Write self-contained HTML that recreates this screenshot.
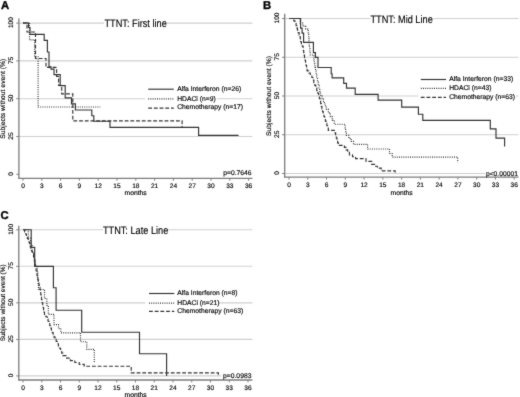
<!DOCTYPE html>
<html><head><meta charset="utf-8"><title>TTNT Kaplan-Meier</title>
<style>
html,body{margin:0;padding:0;background:#fff;}
body{width:520px;height:397px;overflow:hidden;}
svg{display:block;font-family:"Liberation Sans", sans-serif;text-rendering:geometricPrecision;filter:grayscale(100%);}
</style></head><body>
<svg width="520" height="397" viewBox="0 0 520 397">
<defs><filter id="sb" color-interpolation-filters="sRGB" x="0" y="0" width="100%" height="100%" filterUnits="userSpaceOnUse"><feConvolveMatrix order="3" kernelMatrix="0.02 0.07 0.02 0.07 0.64 0.07 0.02 0.07 0.02" divisor="1" edgeMode="duplicate" preserveAlpha="true"/></filter></defs>
<g filter="url(#sb)">
<rect width="520" height="397" fill="#fff"/>
<line x1="18.9" y1="23.1" x2="252.4" y2="23.1" stroke="#cfcfcf" stroke-width="1.1"/>
<line x1="18.9" y1="60.9" x2="252.4" y2="60.9" stroke="#cfcfcf" stroke-width="1.1"/>
<line x1="18.9" y1="98.7" x2="252.4" y2="98.7" stroke="#cfcfcf" stroke-width="1.1"/>
<line x1="18.9" y1="136.5" x2="252.4" y2="136.5" stroke="#cfcfcf" stroke-width="1.1"/>
<rect x="104" y="19" width="63" height="8" fill="#fff"/>
<rect x="145.2" y="95" width="72" height="7" fill="#fff"/>
<line x1="18.9" y1="18.4" x2="18.9" y2="178.8" stroke="#7c7c7c" stroke-width="1.3"/>
<line x1="18.4" y1="178.3" x2="252.4" y2="178.3" stroke="#7c7c7c" stroke-width="1.3"/>
<line x1="16.3" y1="174.3" x2="18.9" y2="174.3" stroke="#7c7c7c" stroke-width="1.0"/>
<text x="13" y="173.8" font-size="6.6" text-anchor="middle" font-weight="normal" fill="#000" stroke="#000" stroke-width="0.15" transform="rotate(-90 13 173.8)">0</text>
<line x1="16.3" y1="136.5" x2="18.9" y2="136.5" stroke="#7c7c7c" stroke-width="1.0"/>
<text x="13" y="136" font-size="6.6" text-anchor="middle" font-weight="normal" fill="#000" stroke="#000" stroke-width="0.15" transform="rotate(-90 13 136)">25</text>
<line x1="16.3" y1="98.7" x2="18.9" y2="98.7" stroke="#7c7c7c" stroke-width="1.0"/>
<text x="13" y="98.2" font-size="6.6" text-anchor="middle" font-weight="normal" fill="#000" stroke="#000" stroke-width="0.15" transform="rotate(-90 13 98.2)">50</text>
<line x1="16.3" y1="60.9" x2="18.9" y2="60.9" stroke="#7c7c7c" stroke-width="1.0"/>
<text x="13" y="60.4" font-size="6.6" text-anchor="middle" font-weight="normal" fill="#000" stroke="#000" stroke-width="0.15" transform="rotate(-90 13 60.4)">75</text>
<line x1="16.3" y1="23.1" x2="18.9" y2="23.1" stroke="#7c7c7c" stroke-width="1.0"/>
<text x="13" y="22.6" font-size="6.6" text-anchor="middle" font-weight="normal" fill="#000" stroke="#000" stroke-width="0.15" transform="rotate(-90 13 22.6)">100</text>
<line x1="23" y1="178.3" x2="23" y2="180.7" stroke="#7c7c7c" stroke-width="1.0"/>
<text x="23" y="188" font-size="6.6" text-anchor="middle" font-weight="normal" fill="#000" stroke="#000" stroke-width="0.15">0</text>
<line x1="41.8" y1="178.3" x2="41.8" y2="180.7" stroke="#7c7c7c" stroke-width="1.0"/>
<text x="41.8" y="188" font-size="6.6" text-anchor="middle" font-weight="normal" fill="#000" stroke="#000" stroke-width="0.15">3</text>
<line x1="60.6" y1="178.3" x2="60.6" y2="180.7" stroke="#7c7c7c" stroke-width="1.0"/>
<text x="60.6" y="188" font-size="6.6" text-anchor="middle" font-weight="normal" fill="#000" stroke="#000" stroke-width="0.15">6</text>
<line x1="79.4" y1="178.3" x2="79.4" y2="180.7" stroke="#7c7c7c" stroke-width="1.0"/>
<text x="79.4" y="188" font-size="6.6" text-anchor="middle" font-weight="normal" fill="#000" stroke="#000" stroke-width="0.15">9</text>
<line x1="98.2" y1="178.3" x2="98.2" y2="180.7" stroke="#7c7c7c" stroke-width="1.0"/>
<text x="98.2" y="188" font-size="6.6" text-anchor="middle" font-weight="normal" fill="#000" stroke="#000" stroke-width="0.15">12</text>
<line x1="117.01" y1="178.3" x2="117.01" y2="180.7" stroke="#7c7c7c" stroke-width="1.0"/>
<text x="117.01" y="188" font-size="6.6" text-anchor="middle" font-weight="normal" fill="#000" stroke="#000" stroke-width="0.15">15</text>
<line x1="135.81" y1="178.3" x2="135.81" y2="180.7" stroke="#7c7c7c" stroke-width="1.0"/>
<text x="135.81" y="188" font-size="6.6" text-anchor="middle" font-weight="normal" fill="#000" stroke="#000" stroke-width="0.15">18</text>
<line x1="154.61" y1="178.3" x2="154.61" y2="180.7" stroke="#7c7c7c" stroke-width="1.0"/>
<text x="154.61" y="188" font-size="6.6" text-anchor="middle" font-weight="normal" fill="#000" stroke="#000" stroke-width="0.15">21</text>
<line x1="173.41" y1="178.3" x2="173.41" y2="180.7" stroke="#7c7c7c" stroke-width="1.0"/>
<text x="173.41" y="188" font-size="6.6" text-anchor="middle" font-weight="normal" fill="#000" stroke="#000" stroke-width="0.15">24</text>
<line x1="192.21" y1="178.3" x2="192.21" y2="180.7" stroke="#7c7c7c" stroke-width="1.0"/>
<text x="192.21" y="188" font-size="6.6" text-anchor="middle" font-weight="normal" fill="#000" stroke="#000" stroke-width="0.15">27</text>
<line x1="211.01" y1="178.3" x2="211.01" y2="180.7" stroke="#7c7c7c" stroke-width="1.0"/>
<text x="211.01" y="188" font-size="6.6" text-anchor="middle" font-weight="normal" fill="#000" stroke="#000" stroke-width="0.15">30</text>
<line x1="229.81" y1="178.3" x2="229.81" y2="180.7" stroke="#7c7c7c" stroke-width="1.0"/>
<text x="229.81" y="188" font-size="6.6" text-anchor="middle" font-weight="normal" fill="#000" stroke="#000" stroke-width="0.15">33</text>
<line x1="248.61" y1="178.3" x2="248.61" y2="180.7" stroke="#7c7c7c" stroke-width="1.0"/>
<text x="248.61" y="188" font-size="6.6" text-anchor="middle" font-weight="normal" fill="#000" stroke="#000" stroke-width="0.15">36</text>
<text x="135.65" y="194.8" font-size="6.75" text-anchor="middle" font-weight="normal" fill="#000" stroke="#000" stroke-width="0.15">months</text>
<text x="5" y="98.7" font-size="6.75" text-anchor="middle" font-weight="normal" fill="#000" stroke="#000" stroke-width="0.15" transform="rotate(-90 5 98.7)">Subjects without event (%)</text>
<text x="0" y="0" font-size="9.2" text-anchor="middle" font-weight="normal" fill="#000" stroke="#000" stroke-width="0.12" transform="translate(135.65 27.2) scale(1 1.18)">TTNT: First line</text>
<line x1="148.2" y1="89.2" x2="173.8" y2="89.2" stroke="#333" stroke-width="1.15"/>
<text x="177.2" y="90.8" font-size="6.75" text-anchor="start" font-weight="normal" fill="#000" stroke="#000" stroke-width="0.15">Alfa Interferon (n=26)</text>
<line x1="148.2" y1="98.9" x2="173.8" y2="98.9" stroke="#333" stroke-width="1.15" stroke-dasharray="1 1.2"/>
<text x="177.2" y="100.6" font-size="6.75" text-anchor="start" font-weight="normal" fill="#000" stroke="#000" stroke-width="0.15">HDACi (n=9)</text>
<line x1="148.2" y1="108.1" x2="173.8" y2="108.1" stroke="#333" stroke-width="1.15" stroke-dasharray="3.8 1.9"/>
<text x="177.2" y="109.2" font-size="6.75" text-anchor="start" font-weight="normal" fill="#000" stroke="#000" stroke-width="0.15">Chemotherapy (n=17)</text>
<text x="251.6" y="175.3" font-size="6.75" text-anchor="end" font-weight="normal" fill="#000" stroke="#000" stroke-width="0.15">p=0.7646</text>
<path d="M23,23 L28.5,23 L28.5,27.5 L30,27.5 L30,34.3 L44.2,34.3 L44.2,40.3 L47.4,40.3 L47.4,52 L49,52 L49,66.8 L51,66.8 L51,69.1 L54,69.1 L54,74.6 L60.2,74.6 L60.2,85.6 L65.2,85.6 L65.2,97.8 L71.5,97.8 L71.5,103.8 L75.4,103.8 L75.4,110 L91.8,110 L91.8,115.7 L93.8,115.7 L93.8,121.2 L110,121.2 L110,127.4 L198.6,127.4 L198.6,135.3 L238.6,135.3" fill="none" stroke="#333" stroke-width="1.15" stroke-linejoin="miter" stroke-linecap="butt"/>
<path d="M23,23 L29.5,23 L29.5,39.8 L34.6,39.8 L34.6,56.7 L38.1,56.7 L38.1,107 L100.3,107" fill="none" stroke="#333" stroke-width="1.15" stroke-dasharray="1 1.2" stroke-linejoin="miter" stroke-linecap="butt"/>
<path d="M23,23 L27,23 L27,32 L35.5,32 L35.5,58.5 L46,58.5 L46,67.4 L56.6,67.4 L56.6,76.5 L58.6,76.5 L58.6,85.4 L61.7,85.4 L61.7,93.9 L72.8,93.9 L72.8,120.8 L182.1,120.8 L182.1,127.4" fill="none" stroke="#333" stroke-width="1.15" stroke-dasharray="3.8 1.9" stroke-linejoin="miter" stroke-linecap="butt"/>
<line x1="284.7" y1="18.5" x2="518.5" y2="18.5" stroke="#cfcfcf" stroke-width="1.1"/>
<line x1="284.7" y1="57.25" x2="518.5" y2="57.25" stroke="#cfcfcf" stroke-width="1.1"/>
<line x1="284.7" y1="96" x2="518.5" y2="96" stroke="#cfcfcf" stroke-width="1.1"/>
<line x1="284.7" y1="134.75" x2="518.5" y2="134.75" stroke="#cfcfcf" stroke-width="1.1"/>
<line x1="284.7" y1="173.5" x2="518.5" y2="173.5" stroke="#cfcfcf" stroke-width="1.1"/>
<rect x="370.5" y="14.5" width="63" height="8" fill="#fff"/>
<rect x="418.5" y="92" width="97.5" height="8" fill="#fff"/>
<rect x="485" y="170" width="34" height="6" fill="#fff"/>
<line x1="284.7" y1="13.8" x2="284.7" y2="177.7" stroke="#7c7c7c" stroke-width="1.3"/>
<line x1="284.2" y1="177.2" x2="518.5" y2="177.2" stroke="#7c7c7c" stroke-width="1.3"/>
<line x1="282.1" y1="173.5" x2="284.7" y2="173.5" stroke="#7c7c7c" stroke-width="1.0"/>
<text x="279.2" y="173" font-size="6.6" text-anchor="middle" font-weight="normal" fill="#000" stroke="#000" stroke-width="0.15" transform="rotate(-90 279.2 173)">0</text>
<line x1="282.1" y1="134.75" x2="284.7" y2="134.75" stroke="#7c7c7c" stroke-width="1.0"/>
<text x="279.2" y="134.25" font-size="6.6" text-anchor="middle" font-weight="normal" fill="#000" stroke="#000" stroke-width="0.15" transform="rotate(-90 279.2 134.25)">25</text>
<line x1="282.1" y1="96" x2="284.7" y2="96" stroke="#7c7c7c" stroke-width="1.0"/>
<text x="279.2" y="95.5" font-size="6.6" text-anchor="middle" font-weight="normal" fill="#000" stroke="#000" stroke-width="0.15" transform="rotate(-90 279.2 95.5)">50</text>
<line x1="282.1" y1="57.25" x2="284.7" y2="57.25" stroke="#7c7c7c" stroke-width="1.0"/>
<text x="279.2" y="56.75" font-size="6.6" text-anchor="middle" font-weight="normal" fill="#000" stroke="#000" stroke-width="0.15" transform="rotate(-90 279.2 56.75)">75</text>
<line x1="282.1" y1="18.5" x2="284.7" y2="18.5" stroke="#7c7c7c" stroke-width="1.0"/>
<text x="279.2" y="18" font-size="6.6" text-anchor="middle" font-weight="normal" fill="#000" stroke="#000" stroke-width="0.15" transform="rotate(-90 279.2 18)">100</text>
<line x1="289" y1="177.2" x2="289" y2="179.6" stroke="#7c7c7c" stroke-width="1.0"/>
<text x="289" y="187.1" font-size="6.6" text-anchor="middle" font-weight="normal" fill="#000" stroke="#000" stroke-width="0.15">0</text>
<line x1="307.77" y1="177.2" x2="307.77" y2="179.6" stroke="#7c7c7c" stroke-width="1.0"/>
<text x="307.77" y="187.1" font-size="6.6" text-anchor="middle" font-weight="normal" fill="#000" stroke="#000" stroke-width="0.15">3</text>
<line x1="326.54" y1="177.2" x2="326.54" y2="179.6" stroke="#7c7c7c" stroke-width="1.0"/>
<text x="326.54" y="187.1" font-size="6.6" text-anchor="middle" font-weight="normal" fill="#000" stroke="#000" stroke-width="0.15">6</text>
<line x1="345.3" y1="177.2" x2="345.3" y2="179.6" stroke="#7c7c7c" stroke-width="1.0"/>
<text x="345.3" y="187.1" font-size="6.6" text-anchor="middle" font-weight="normal" fill="#000" stroke="#000" stroke-width="0.15">9</text>
<line x1="364.07" y1="177.2" x2="364.07" y2="179.6" stroke="#7c7c7c" stroke-width="1.0"/>
<text x="364.07" y="187.1" font-size="6.6" text-anchor="middle" font-weight="normal" fill="#000" stroke="#000" stroke-width="0.15">12</text>
<line x1="382.84" y1="177.2" x2="382.84" y2="179.6" stroke="#7c7c7c" stroke-width="1.0"/>
<text x="382.84" y="187.1" font-size="6.6" text-anchor="middle" font-weight="normal" fill="#000" stroke="#000" stroke-width="0.15">15</text>
<line x1="401.61" y1="177.2" x2="401.61" y2="179.6" stroke="#7c7c7c" stroke-width="1.0"/>
<text x="401.61" y="187.1" font-size="6.6" text-anchor="middle" font-weight="normal" fill="#000" stroke="#000" stroke-width="0.15">18</text>
<line x1="420.38" y1="177.2" x2="420.38" y2="179.6" stroke="#7c7c7c" stroke-width="1.0"/>
<text x="420.38" y="187.1" font-size="6.6" text-anchor="middle" font-weight="normal" fill="#000" stroke="#000" stroke-width="0.15">21</text>
<line x1="439.14" y1="177.2" x2="439.14" y2="179.6" stroke="#7c7c7c" stroke-width="1.0"/>
<text x="439.14" y="187.1" font-size="6.6" text-anchor="middle" font-weight="normal" fill="#000" stroke="#000" stroke-width="0.15">24</text>
<line x1="457.91" y1="177.2" x2="457.91" y2="179.6" stroke="#7c7c7c" stroke-width="1.0"/>
<text x="457.91" y="187.1" font-size="6.6" text-anchor="middle" font-weight="normal" fill="#000" stroke="#000" stroke-width="0.15">27</text>
<line x1="476.68" y1="177.2" x2="476.68" y2="179.6" stroke="#7c7c7c" stroke-width="1.0"/>
<text x="476.68" y="187.1" font-size="6.6" text-anchor="middle" font-weight="normal" fill="#000" stroke="#000" stroke-width="0.15">30</text>
<line x1="495.45" y1="177.2" x2="495.45" y2="179.6" stroke="#7c7c7c" stroke-width="1.0"/>
<text x="495.45" y="187.1" font-size="6.6" text-anchor="middle" font-weight="normal" fill="#000" stroke="#000" stroke-width="0.15">33</text>
<line x1="514.22" y1="177.2" x2="514.22" y2="179.6" stroke="#7c7c7c" stroke-width="1.0"/>
<text x="514.22" y="187.1" font-size="6.6" text-anchor="middle" font-weight="normal" fill="#000" stroke="#000" stroke-width="0.15">36</text>
<text x="401.6" y="194.5" font-size="6.75" text-anchor="middle" font-weight="normal" fill="#000" stroke="#000" stroke-width="0.15">months</text>
<text x="270.6" y="96" font-size="6.75" text-anchor="middle" font-weight="normal" fill="#000" stroke="#000" stroke-width="0.15" transform="rotate(-90 270.6 96)">Subjects without event (%)</text>
<text x="0" y="0" font-size="9.2" text-anchor="middle" font-weight="normal" fill="#000" stroke="#000" stroke-width="0.12" transform="translate(401.6 22.6) scale(1 1.18)">TTNT: Mid Line</text>
<line x1="420.8" y1="79.5" x2="446" y2="79.5" stroke="#333" stroke-width="1.15"/>
<text x="449.2" y="80.7" font-size="6.75" text-anchor="start" font-weight="normal" fill="#000" stroke="#000" stroke-width="0.15">Alfa Interferon (n=33)</text>
<line x1="420.8" y1="88.3" x2="446" y2="88.3" stroke="#333" stroke-width="1.15" stroke-dasharray="1 1.2"/>
<text x="449.2" y="89.9" font-size="6.75" text-anchor="start" font-weight="normal" fill="#000" stroke="#000" stroke-width="0.15">HDACi (n=43)</text>
<line x1="420.8" y1="97.3" x2="446" y2="97.3" stroke="#333" stroke-width="1.15" stroke-dasharray="3.8 1.9"/>
<text x="449.2" y="99.4" font-size="6.75" text-anchor="start" font-weight="normal" fill="#000" stroke="#000" stroke-width="0.15">Chemotherapy (n=63)</text>
<text x="518" y="175.6" font-size="6.75" text-anchor="end" font-weight="normal" fill="#000" stroke="#000" stroke-width="0.15">p&lt;0.00001</text>
<path d="M289.2,18.5 L300.6,18.5 L300.6,28.1 L302.1,28.1 L302.1,33.1 L303.6,33.1 L303.6,42.3 L313.4,42.3 L313.4,52.6 L315.4,52.6 L315.4,57.3 L318,57.3 L318,67.5 L331.2,67.5 L331.2,73.7 L332.1,73.7 L332.1,77.9 L343.7,77.9 L343.7,83.3 L346.5,83.3 L346.5,88.1 L355.2,88.1 L355.2,94.4 L378.1,94.4 L378.1,100.1 L401.7,100.1 L401.7,107.1 L418.4,107.1 L418.4,114.2 L422.8,114.2 L422.8,120.3 L490.3,120.3 L490.3,128.9 L496,128.9 L496,138.1 L504.6,138.1 L504.6,146.6" fill="none" stroke="#333" stroke-width="1.15" stroke-linejoin="miter" stroke-linecap="butt"/>
<path d="M289,18.5 L299,18.5 L300,18.5 L300,23 L302.85,23 L302.85,26.05 L305.7,26.05 L305.7,29.1 L307.7,29.1 L307.7,30.6 L308.2,30.6 L308.2,34.4 L308.7,34.4 L308.7,38.2 L308.95,38.2 L308.95,41.7 L309.2,41.7 L309.2,45.2 L309.53,45.2 L309.53,48.47 L309.87,48.47 L309.87,51.73 L310.2,51.73 L310.2,55 L313.8,55 L313.8,60 L314.38,60 L314.38,63.7 L314.96,63.7 L314.96,67.4 L315.54,67.4 L315.54,71.1 L316.12,71.1 L316.12,74.8 L316.7,74.8 L316.7,78.5 L317.48,78.5 L317.48,81.96 L318.26,81.96 L318.26,85.42 L319.04,85.42 L319.04,88.88 L319.82,88.88 L319.82,92.34 L320.6,92.34 L320.6,95.8 L322.03,95.8 L322.03,99.12 L323.45,99.12 L323.45,102.45 L324.88,102.45 L324.88,105.77 L326.3,105.77 L326.3,109.1 L328.3,109.1 L328.3,112.88 L330.3,112.88 L330.3,116.65 L332.3,116.65 L332.3,120.42 L334.3,120.42 L334.3,124.2 L344.4,124.2 L345.07,124.2 L345.07,127.9 L345.73,127.9 L345.73,131.6 L346.4,131.6 L346.4,135.3 L348.77,135.3 L348.77,138.33 L351.13,138.33 L351.13,141.37 L353.5,141.37 L353.5,144.4 L365.6,144.4 L367.6,144.4 L367.6,149 L384.7,149 L389.5,149 L389.5,153.5 L392.2,153.5 L392.2,157.1 L457.7,157.1 L457.7,162.5" fill="none" stroke="#333" stroke-width="1.15" stroke-dasharray="1 1.2" stroke-linejoin="miter" stroke-linecap="butt"/>
<path d="M289,18.5 L292.6,18.5 L293.77,18.5 L293.77,20.87 L294.93,20.87 L294.93,23.23 L296.1,23.23 L296.1,25.6 L296.77,25.6 L296.77,27.93 L297.43,27.93 L297.43,30.27 L298.1,30.27 L298.1,32.6 L299.1,32.6 L299.1,34.9 L300.1,34.9 L300.1,37.2 L300.35,37.2 L300.35,39.45 L300.6,39.45 L300.6,41.7 L301.43,41.7 L301.43,43.9 L302.27,43.9 L302.27,46.1 L303.1,46.1 L303.1,48.3 L303.4,48.3 L303.4,50.53 L303.7,50.53 L303.7,52.77 L304,52.77 L304,55 L304.52,55 L304.52,57.63 L305.03,57.63 L305.03,60.27 L305.55,60.27 L305.55,62.9 L306.07,62.9 L306.07,65.53 L306.58,65.53 L306.58,68.17 L307.1,68.17 L307.1,70.8 L308.7,70.8 L308.7,73.03 L310.3,73.03 L310.3,75.27 L311.9,75.27 L311.9,77.5 L312.87,77.5 L312.87,80.11 L313.84,80.11 L313.84,82.73 L314.81,82.73 L314.81,85.34 L315.79,85.34 L315.79,87.96 L316.76,87.96 L316.76,90.57 L317.73,90.57 L317.73,93.19 L318.7,93.19 L318.7,95.8 L319.34,95.8 L319.34,98.43 L319.99,98.43 L319.99,101.06 L320.63,101.06 L320.63,103.69 L321.27,103.69 L321.27,106.31 L321.91,106.31 L321.91,108.94 L322.56,108.94 L322.56,111.57 L323.2,111.57 L323.2,114.2 L323.93,114.2 L323.93,116.5 L324.66,116.5 L324.66,118.8 L325.39,118.8 L325.39,121.1 L326.11,121.1 L326.11,123.4 L326.84,123.4 L326.84,125.7 L327.57,125.7 L327.57,128 L328.3,128 L328.3,130.3 L334.3,130.3 L334.97,130.3 L334.97,132.82 L335.63,132.82 L335.63,135.33 L336.3,135.33 L336.3,137.85 L336.97,137.85 L336.97,140.37 L337.63,140.37 L337.63,142.88 L338.3,142.88 L338.3,145.4 L344.4,145.4 L344.4,147.4 L346.07,147.4 L346.07,149.9 L347.73,149.9 L347.73,152.4 L349.4,152.4 L349.4,154.9 L352.5,154.9 L352.5,156.75 L355.6,156.75 L355.6,158.6 L363.2,158.6 L366,158.6 L366,161.4 L371.7,161.4 L371.7,164.3 L374.55,164.3 L374.55,166.2 L377.4,166.2 L377.4,168.1 L381.2,168.1 L381.2,170.9 L395.2,170.9 L395.2,172.5" fill="none" stroke="#333" stroke-width="1.15" stroke-dasharray="3.8 1.9" stroke-linejoin="miter" stroke-linecap="butt"/>
<line x1="18.8" y1="229.8" x2="252.4" y2="229.8" stroke="#cfcfcf" stroke-width="1.1"/>
<line x1="18.8" y1="266.32" x2="252.4" y2="266.32" stroke="#cfcfcf" stroke-width="1.1"/>
<line x1="18.8" y1="302.85" x2="252.4" y2="302.85" stroke="#cfcfcf" stroke-width="1.1"/>
<line x1="18.8" y1="339.38" x2="252.4" y2="339.38" stroke="#cfcfcf" stroke-width="1.1"/>
<line x1="18.8" y1="375.9" x2="252.4" y2="375.9" stroke="#cfcfcf" stroke-width="1.1"/>
<rect x="103" y="225.5" width="65" height="8" fill="#fff"/>
<rect x="145.3" y="299" width="73" height="7" fill="#fff"/>
<rect x="221.5" y="372.5" width="31" height="6" fill="#fff"/>
<line x1="18.8" y1="225.8" x2="18.8" y2="380.5" stroke="#7c7c7c" stroke-width="1.3"/>
<line x1="18.3" y1="380" x2="252.4" y2="380" stroke="#7c7c7c" stroke-width="1.3"/>
<line x1="16.2" y1="375.9" x2="18.8" y2="375.9" stroke="#7c7c7c" stroke-width="1.0"/>
<text x="13" y="375.4" font-size="6.6" text-anchor="middle" font-weight="normal" fill="#000" stroke="#000" stroke-width="0.15" transform="rotate(-90 13 375.4)">0</text>
<line x1="16.2" y1="339.38" x2="18.8" y2="339.38" stroke="#7c7c7c" stroke-width="1.0"/>
<text x="13" y="338.88" font-size="6.6" text-anchor="middle" font-weight="normal" fill="#000" stroke="#000" stroke-width="0.15" transform="rotate(-90 13 338.88)">25</text>
<line x1="16.2" y1="302.85" x2="18.8" y2="302.85" stroke="#7c7c7c" stroke-width="1.0"/>
<text x="13" y="302.35" font-size="6.6" text-anchor="middle" font-weight="normal" fill="#000" stroke="#000" stroke-width="0.15" transform="rotate(-90 13 302.35)">50</text>
<line x1="16.2" y1="266.32" x2="18.8" y2="266.32" stroke="#7c7c7c" stroke-width="1.0"/>
<text x="13" y="265.82" font-size="6.6" text-anchor="middle" font-weight="normal" fill="#000" stroke="#000" stroke-width="0.15" transform="rotate(-90 13 265.82)">75</text>
<line x1="16.2" y1="229.8" x2="18.8" y2="229.8" stroke="#7c7c7c" stroke-width="1.0"/>
<text x="13" y="229.3" font-size="6.6" text-anchor="middle" font-weight="normal" fill="#000" stroke="#000" stroke-width="0.15" transform="rotate(-90 13 229.3)">100</text>
<line x1="23" y1="380" x2="23" y2="382.4" stroke="#7c7c7c" stroke-width="1.0"/>
<text x="23" y="389.6" font-size="6.6" text-anchor="middle" font-weight="normal" fill="#000" stroke="#000" stroke-width="0.15">0</text>
<line x1="41.75" y1="380" x2="41.75" y2="382.4" stroke="#7c7c7c" stroke-width="1.0"/>
<text x="41.75" y="389.6" font-size="6.6" text-anchor="middle" font-weight="normal" fill="#000" stroke="#000" stroke-width="0.15">3</text>
<line x1="60.5" y1="380" x2="60.5" y2="382.4" stroke="#7c7c7c" stroke-width="1.0"/>
<text x="60.5" y="389.6" font-size="6.6" text-anchor="middle" font-weight="normal" fill="#000" stroke="#000" stroke-width="0.15">6</text>
<line x1="79.25" y1="380" x2="79.25" y2="382.4" stroke="#7c7c7c" stroke-width="1.0"/>
<text x="79.25" y="389.6" font-size="6.6" text-anchor="middle" font-weight="normal" fill="#000" stroke="#000" stroke-width="0.15">9</text>
<line x1="98" y1="380" x2="98" y2="382.4" stroke="#7c7c7c" stroke-width="1.0"/>
<text x="98" y="389.6" font-size="6.6" text-anchor="middle" font-weight="normal" fill="#000" stroke="#000" stroke-width="0.15">12</text>
<line x1="116.75" y1="380" x2="116.75" y2="382.4" stroke="#7c7c7c" stroke-width="1.0"/>
<text x="116.75" y="389.6" font-size="6.6" text-anchor="middle" font-weight="normal" fill="#000" stroke="#000" stroke-width="0.15">15</text>
<line x1="135.5" y1="380" x2="135.5" y2="382.4" stroke="#7c7c7c" stroke-width="1.0"/>
<text x="135.5" y="389.6" font-size="6.6" text-anchor="middle" font-weight="normal" fill="#000" stroke="#000" stroke-width="0.15">18</text>
<line x1="154.25" y1="380" x2="154.25" y2="382.4" stroke="#7c7c7c" stroke-width="1.0"/>
<text x="154.25" y="389.6" font-size="6.6" text-anchor="middle" font-weight="normal" fill="#000" stroke="#000" stroke-width="0.15">21</text>
<line x1="173" y1="380" x2="173" y2="382.4" stroke="#7c7c7c" stroke-width="1.0"/>
<text x="173" y="389.6" font-size="6.6" text-anchor="middle" font-weight="normal" fill="#000" stroke="#000" stroke-width="0.15">24</text>
<line x1="191.75" y1="380" x2="191.75" y2="382.4" stroke="#7c7c7c" stroke-width="1.0"/>
<text x="191.75" y="389.6" font-size="6.6" text-anchor="middle" font-weight="normal" fill="#000" stroke="#000" stroke-width="0.15">27</text>
<line x1="210.5" y1="380" x2="210.5" y2="382.4" stroke="#7c7c7c" stroke-width="1.0"/>
<text x="210.5" y="389.6" font-size="6.6" text-anchor="middle" font-weight="normal" fill="#000" stroke="#000" stroke-width="0.15">30</text>
<line x1="229.25" y1="380" x2="229.25" y2="382.4" stroke="#7c7c7c" stroke-width="1.0"/>
<text x="229.25" y="389.6" font-size="6.6" text-anchor="middle" font-weight="normal" fill="#000" stroke="#000" stroke-width="0.15">33</text>
<line x1="248" y1="380" x2="248" y2="382.4" stroke="#7c7c7c" stroke-width="1.0"/>
<text x="248" y="389.6" font-size="6.6" text-anchor="middle" font-weight="normal" fill="#000" stroke="#000" stroke-width="0.15">36</text>
<text x="135.6" y="396.6" font-size="6.75" text-anchor="middle" font-weight="normal" fill="#000" stroke="#000" stroke-width="0.15">months</text>
<text x="5" y="302.85" font-size="6.5" text-anchor="middle" font-weight="normal" fill="#000" stroke="#000" stroke-width="0.15" transform="rotate(-90 5 302.85)">Subjects without event (%)</text>
<text x="0" y="0" font-size="9.2" text-anchor="middle" font-weight="normal" fill="#000" stroke="#000" stroke-width="0.12" transform="translate(135.6 233.7) scale(1 1.18)">TTNT: Late Line</text>
<line x1="149" y1="293.5" x2="174.3" y2="293.5" stroke="#333" stroke-width="1.15"/>
<text x="177.3" y="294.7" font-size="6.75" text-anchor="start" font-weight="normal" fill="#000" stroke="#000" stroke-width="0.15">Alfa Interferon (n=8)</text>
<line x1="149" y1="303.1" x2="174.3" y2="303.1" stroke="#333" stroke-width="1.15" stroke-dasharray="1 1.2"/>
<text x="177.3" y="304.7" font-size="6.75" text-anchor="start" font-weight="normal" fill="#000" stroke="#000" stroke-width="0.15">HDACi (n=21)</text>
<line x1="149" y1="311.3" x2="174.3" y2="311.3" stroke="#333" stroke-width="1.15" stroke-dasharray="3.8 1.9"/>
<text x="177.3" y="313.1" font-size="6.75" text-anchor="start" font-weight="normal" fill="#000" stroke="#000" stroke-width="0.15">Chemotherapy (n=63)</text>
<text x="251.4" y="378.4" font-size="6.75" text-anchor="end" font-weight="normal" fill="#000" stroke="#000" stroke-width="0.15">p=0.0983</text>
<path d="M23.3,229.7 L31.2,229.7 L31.2,247.3 L34.7,247.3 L34.7,266.3 L53.4,266.3 L53.4,287.7 L56.1,287.7 L56.1,310.2 L81.7,310.2 L81.7,332.2 L139.5,332.2 L139.5,353.7 L166.6,353.7 L166.6,375.9" fill="none" stroke="#333" stroke-width="1.15" stroke-linejoin="miter" stroke-linecap="butt"/>
<path d="M23.3,229.7 L26,229.7 L28.3,229.7 L28.3,238.1 L30.6,238.1 L30.6,244.2 L32.1,244.2 L32.1,251.8 L33.6,251.8 L33.6,258.6 L35.2,258.6 L35.2,266 L37.4,266 L37.4,271.5 L37.77,271.5 L37.77,277.5 L38.13,277.5 L38.13,283.5 L38.5,283.5 L38.5,289.5 L44.5,289.5 L44.5,298.5 L46.8,298.5 L46.8,305.4 L48.3,305.4 L48.3,314.4 L54,314.4 L54,324.6 L58.5,324.6 L58.5,328.5 L60.8,328.5 L60.8,332.8 L80.5,332.8 L80.5,341.7 L86.8,341.7 L86.8,349.3 L94.3,349.3 L94.3,363.1" fill="none" stroke="#333" stroke-width="1.15" stroke-dasharray="1 1.2" stroke-linejoin="miter" stroke-linecap="butt"/>
<path d="M23.3,229.7 L23.8,229.7 L24.68,229.7 L24.68,231.87 L25.57,231.87 L25.57,234.03 L26.45,234.03 L26.45,236.2 L27.33,236.2 L27.33,238.37 L28.22,238.37 L28.22,240.53 L29.1,240.53 L29.1,242.7 L29.68,242.7 L29.68,244.77 L30.25,244.77 L30.25,246.85 L30.82,246.85 L30.82,248.93 L31.4,248.93 L31.4,251 L32.5,251 L32.5,253.65 L33.6,253.65 L33.6,256.3 L34,256.3 L34,258.77 L34.4,258.77 L34.4,261.25 L34.8,261.25 L34.8,263.73 L35.2,263.73 L35.2,266.2 L35.64,266.2 L35.64,268.46 L36.08,268.46 L36.08,270.72 L36.52,270.72 L36.52,272.98 L36.96,272.98 L36.96,275.24 L37.4,275.24 L37.4,277.5 L37.9,277.5 L37.9,280 L38.4,280 L38.4,282.5 L38.9,282.5 L38.9,285 L39.45,285 L39.45,287.25 L40,287.25 L40,289.5 L40.38,289.5 L40.38,292.05 L40.75,292.05 L40.75,294.6 L41.12,294.6 L41.12,297.15 L41.5,297.15 L41.5,299.7 L42.1,299.7 L42.1,302.55 L42.7,302.55 L42.7,305.4 L43.15,305.4 L43.15,307.65 L43.6,307.65 L43.6,309.9 L44.05,309.9 L44.05,312.15 L44.5,312.15 L44.5,314.4 L45.85,314.4 L45.85,316.7 L47.2,316.7 L47.2,319 L48.05,319 L48.05,321.25 L48.9,321.25 L48.9,323.5 L49.75,323.5 L49.75,325.75 L50.6,325.75 L50.6,328 L51.45,328 L51.45,330.27 L52.3,330.27 L52.3,332.55 L53.15,332.55 L53.15,334.83 L54,334.83 L54,337.1 L55.1,337.1 L55.1,339.32 L56.2,339.32 L56.2,341.54 L57.3,341.54 L57.3,343.76 L58.4,343.76 L58.4,345.98 L59.5,345.98 L59.5,348.2 L60.6,348.2 L60.6,350.67 L61.7,350.67 L61.7,353.13 L62.8,353.13 L62.8,355.6 L66.6,355.6 L66.6,358.1 L70.4,358.1 L70.4,360.6 L74.8,360.6 L74.8,362.5 L79.2,362.5 L79.2,364.4 L84.2,364.4 L84.2,366.2 L131.2,366.2 L131.2,372.9 L218.4,372.9 L218.4,375.3" fill="none" stroke="#333" stroke-width="1.15" stroke-dasharray="3.8 1.9" stroke-linejoin="miter" stroke-linecap="butt"/>
<text x="0.9" y="9.1" font-size="11.3" text-anchor="start" font-weight="bold" fill="#000" stroke="#000" stroke-width="0.35">A</text>
<text x="263.1" y="9.3" font-size="11.3" text-anchor="start" font-weight="bold" fill="#000" stroke="#000" stroke-width="0.35">B</text>
<text x="0.6" y="219.3" font-size="11.3" text-anchor="start" font-weight="bold" fill="#000" stroke="#000" stroke-width="0.35">C</text>
</g>
</svg>
</body></html>
